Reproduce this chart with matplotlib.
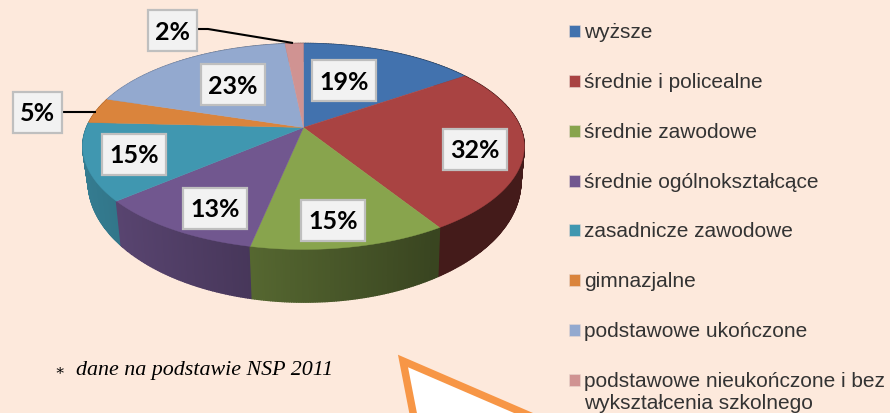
import numpy as np
import matplotlib
matplotlib.use("Agg")
import matplotlib.pyplot as plt
from matplotlib.patches import Rectangle

categories = ["wyższe", "średnie i policealne", "średnie zawodowe", "średnie ogólnokształcące",
              "zasadnicze zawodowe", "gimnazjalne", "podstawowe ukończone",
              "podstawowe nieukończone i bez\nwykształcenia szkolnego"]
values = [19, 32, 15, 13, 15, 5, 23, 2]
colors = ["#4272AE", "#A94342", "#88A44D", "#71578F", "#4097B0", "#DA843C", "#93A9CF", "#D09392"]
BG = "#FDE9DC"

fig = plt.figure(figsize=(8.9, 4.14), dpi=100, facecolor=BG)
ax = fig.add_axes([0, 0, 1, 1])
ax.set_xlim(0, 890)
ax.set_ylim(414, 0)
ax.axis("off")

# perspective projection of the pie disc
APEX = (303.5, 128.5)
R, A, C = 217.0, 99.5, 0.184


def top_xy(theta):
    u, v = np.sin(theta), np.cos(theta)
    d = 1 + C * v
    return R * u / d, A * v / d


def bottom_pt(theta):
    X, Y = top_xy(theta)
    return APEX[0] + 0.98 * X + 1, APEX[1] + 32 - 1.17 * Y


def top_pt(theta):
    X, Y = top_xy(theta)
    return APEX[0] + X, APEX[1] - Y


fractions = np.array(values, dtype=float) / sum(values)
edges = np.concatenate([[0], np.cumsum(fractions)]) * 2 * np.pi


def darker(col, f):
    r, g, b = matplotlib.colors.to_rgb(col)
    return (r * f, g * f, b * f)


# side walls
quads = []
for i, col in enumerate(colors):
    n = max(6, int(700 * fractions[i]))
    th = np.linspace(edges[i], edges[i + 1], n + 1)
    for a, b in zip(th[:-1], th[1:]):
        mid = (a + b) / 2
        X, Y = top_xy(mid)
        f = np.clip(0.82 - 0.40 * (X + 220) / 350, 0.42, 0.82)
        if i == 1:
            f = 0.40
        quads.append((Y, a, b, darker(col, f)))
for Y, a, b, c in sorted(quads, key=lambda q: -q[0]):
    xa, ya = top_pt(a); xb, yb = top_pt(b)
    xc, yc = bottom_pt(b); xd, yd = bottom_pt(a)
    ax.fill([xa, xb, xc, xd], [ya, yb, yc, yd], color=c, lw=1.0, zorder=2)

# top faces
for i, col in enumerate(colors):
    n = max(8, int(400 * fractions[i]))
    th = np.linspace(edges[i], edges[i + 1], n + 1)
    xs, ys = top_pt(th)
    ax.fill(np.r_[APEX[0], xs], np.r_[APEX[1], ys], color=col, lw=0.3, zorder=3)

# leader lines
ax.plot([198, 208, 293], [30, 30, 44], color="black", lw=1.5, zorder=4, solid_capstyle="butt")
ax.plot([63, 96], [113, 113], color="black", lw=1.5, zorder=4, solid_capstyle="butt")

# value labels
label_pos = [(344, 81), (475, 150), (333, 221), (215, 209), (134, 155), (37, 113), (233, 85), (172, 31)]
for v, (x, y) in zip(values, label_pos):
    w = 64 if v >= 10 else 49
    ax.add_patch(Rectangle((x - w / 2, y - 20.5), w, 41, fc="#F2F2F2", ec="#BFBFBF", lw=1.6, zorder=5))
    ax.text(x, y + 1, f"{v}%", ha="center", va="center", family="Lato", weight="bold",
            fontsize=18, color="black", zorder=6)

# legend
legend_y = [32, 82, 132, 182, 231, 281, 331, 381]
for name, col, y in zip(categories, colors, legend_y):
    ax.add_patch(Rectangle((569, y - 6.5), 11, 12, fc=col, ec="#E8D8D0", lw=0.4, zorder=3))
    first, *rest = name.split("\n")
    ax.text(584, y + 1, first, ha="left", va="center", family="Liberation Sans",
            fontsize=15, color="#333333")
    for k, line in enumerate(rest, 1):
        ax.text(584, y + 1 + 22 * k, line, ha="left", va="center", family="Liberation Sans",
                fontsize=15, color="#333333")

# footnote
ax.text(54, 370, "∗", ha="left", va="center", family="DejaVu Serif", fontsize=11, color="black")
ax.text(76, 371, "dane na podstawie NSP 2011", ha="left", va="center", family="Liberation Serif",
        style="italic", fontsize=15.8, color="black")

# callout shape
ax.fill([403, 600, 424], [362, 447, 470], facecolor="white", edgecolor="#F79646", lw=5.4,
        joinstyle="miter", zorder=7)

fig.savefig("out.png", dpi=100, facecolor=BG)
